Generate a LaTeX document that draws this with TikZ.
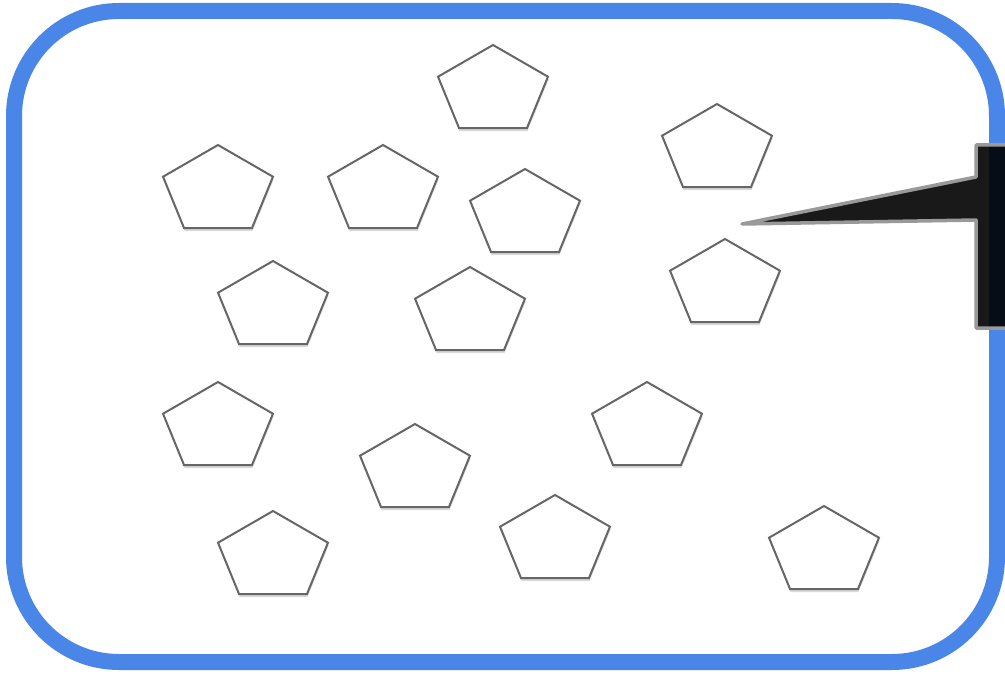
\documentclass[tikz,border=0pt]{standalone}
\usetikzlibrary{shadows}

\definecolor{frameblue}{HTML}{4A86E8}
\definecolor{pentline}{HTML}{666666}
\definecolor{calloutline}{HTML}{999999}

\tikzset{
  pent/.style={draw=pentline, line width=2pt, fill=white, line join=miter,
    drop shadow={shadow xshift=0.6pt, shadow yshift=-3pt, opacity=0.15, fill=black}},
  frame/.style={draw=frameblue, line width=16, rounded corners=105},
  callout/.style={draw=calloutline, line width=3.5, fill=black, fill opacity=0.9, line join=round}
}

\begin{document}
\begin{tikzpicture}[x=1pt, y=-1pt]
  \clip (0,0) rectangle (1005,674);
  \fill[white] (0,0) rectangle (1005,674);

  % blue frame
  \draw[frame] (14,11) rectangle (997,662);

  % pentagons: top vertex x / y, squashed vertically
  \foreach \px/\py in {493/45, 717/104, 218/145, 383/145, 525/169, 725/239,
                       273/261, 470/267, 218/382, 647/382, 415/424, 273/511,
                       555/495, 824/506} {
    \begin{scope}[shift={(\px,\py+45.9)}, xscale=57.8, yscale=-45.9]
      \draw[pent] (90:1) -- (162:1) -- (234:1) -- (306:1) -- (18:1) -- cycle;
    \end{scope}
  }

  % callout on the right
  \coordinate (tip) at (742,224);
  \coordinate (tl) at (976,145);
  \coordinate (bl) at (976,328);
  \draw[callout] (1012,145) -- (tl) -- (976,177) -- (tip) -- (976,220) -- (bl) -- (1012,328);
\end{tikzpicture}
\end{document}
